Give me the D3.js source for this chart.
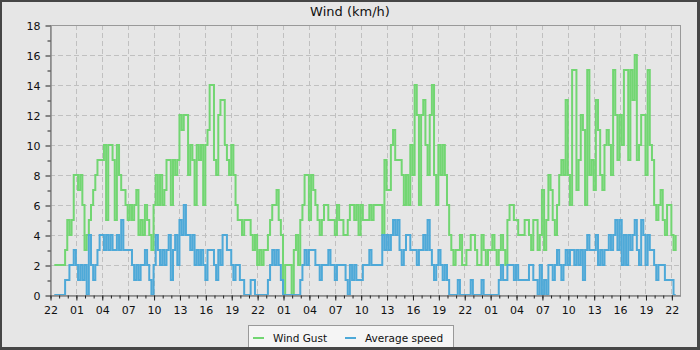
<!DOCTYPE html>
<html>
<head>
<meta charset="utf-8">
<script src="https://cdn.jsdelivr.net/npm/d3@7"></script>
<style>
  body { margin: 0; background: #e6e6e6; }
  svg { display: block; font-family: "DejaVu Sans", sans-serif; }
</style>
</head>
<body>
<svg id="graphique" width="700" height="350"></svg>
<script>
// ===============================
// Données (relevés tous les quarts d'heure, premier relevé à 22h30)
// ===============================
const titre = "Wind (km/h)";
const nomsSeries = ["Wind Gust", "Average speed"];
const couleursSeries = ["#72d672", "#4ea9d8"];

// Rafales, une ligne par heure (4 quarts d'heure)
const rafalesJour1 = [
    2, 2,
    2, 2, 2, 3,   5, 4, 5, 8,   8, 7, 8, 6,   3, 4, 5, 6,
    7, 8, 9, 9,   9, 10, 5, 10, 10, 9, 5, 10, 8, 7, 7, 6,
    5, 6, 5, 6,   7, 4, 5, 4,   6, 5, 4, 3,   6, 8, 6, 8,
    6, 7, 9, 9,   6, 9, 8, 9,   12, 11, 12, 12, 8, 10, 9, 6,
    10, 9, 10, 6, 10, 11, 14, 14, 9, 8, 12, 13, 13, 10, 9, 8,
    10, 8, 6, 5,  5, 4, 5, 5,   5, 4, 3, 4
];
const rafalesJour2 = [
    2, 3, 2, 3,   3, 4, 5, 6,   6, 7, 5, 4,   0, 2, 2, 2,
    0, 3, 4, 2,   5, 6, 8, 8,   5, 8, 7, 6,   5, 4, 5, 6,
    6, 5, 5, 5,   4, 6, 5, 5,   4, 4, 5, 6,   6, 5, 6, 4,
    6, 5, 5, 5,   6, 5, 6, 6,   6, 6, 4, 9,   7, 7, 10, 11,
    9, 9, 9, 8,   6, 8, 6, 10,  8, 14, 12, 6, 12, 13, 10, 8,
    12, 14, 8, 6, 10, 8, 10, 8, 6, 4, 3, 2,   3, 3, 4, 2
];
const rafalesJour3 = [
    2, 3, 3, 4,   4, 3, 2, 2,   4, 3, 2, 3,   3, 4, 3, 2,
    3, 4, 3, 2,   5, 6, 6, 5,   5, 4, 4, 4,   5, 5, 4, 3,
    5, 5, 3, 4,   7, 3, 5, 8,   7, 5, 4, 6,   8, 9, 8, 13,
    8, 6, 15, 15, 7, 9, 12, 11, 6, 15, 8, 9,  7, 13, 11, 8,
    7, 10, 11, 10, 8, 15, 12, 9, 12, 10, 15, 15, 9, 15, 13, 16,
    9, 10, 12, 12, 8, 15, 10, 9, 6, 5, 6, 7,  5, 4, 6, 6,
    4, 3, 4
];

// Vitesse moyenne
const moyenneJour1 = [
    0, 0,
    0, 0, 0, 1,   1, 2, 2, 3,   2, 1, 2, 1,   2, 0, 4, 2,
    1, 2, 3, 4,   4, 3, 4, 3,   4, 3, 3, 4,   3, 5, 3, 3,
    3, 3, 2, 1,   2, 1, 2, 2,   3, 2, 1, 0,   2, 4, 3, 2,
    3, 2, 3, 4,   1, 3, 4, 2,   5, 4, 6, 4,   4, 3, 4, 2,
    3, 2, 3, 2,   1, 3, 3, 3,   2, 1, 3, 2,   4, 4, 3, 3,
    2, 1, 2, 2,   1, 1, 0, 0,   0, 1, 1, 0
];
const moyenneJour2 = [
    0, 0, 0, 0,   0, 1, 2, 3,   2, 3, 2, 1,   0, 0, 0, 0,
    0, 0, 0, 0,   1, 2, 3, 2,   3, 3, 3, 2,   2, 1, 2, 2,
    2, 3, 2, 2,   1, 2, 2, 2,   2, 1, 0, 2,   1, 2, 1, 1,
    1, 2, 2, 2,   3, 2, 2, 2,   2, 2, 4, 3,   4, 3, 4, 5,
    4, 5, 3, 2,   3, 4, 4, 3,   3, 3, 2, 3,   3, 4, 3, 5,
    3, 2, 1, 2,   3, 2, 1, 2,   1, 0, 0, 0,   0, 1, 0, 0
];
const moyenneJour3 = [
    0, 0, 0, 1,   0, 0, 0, 0,   1, 0, 0, 0,   0, 0, 0, 0,
    1, 2, 1, 1,   2, 2, 2, 1,   2, 1, 1, 1,   1, 1, 2, 2,
    1, 1, 0, 2,   0, 1, 0, 2,   2, 1, 2, 3,   2, 1, 2, 3,
    2, 3, 3, 2,   3, 2, 3, 1,   3, 4, 3, 3,   3, 4, 2, 3,
    2, 3, 3, 4,   3, 4, 5, 3,   5, 2, 4, 2,   4, 3, 4, 5,
    3, 2, 5, 4,   2, 4, 3, 3,   2, 1, 2, 2,   2, 1, 1, 1,
    1, 0, 0
];

const rafales = [].concat(rafalesJour1, rafalesJour2, rafalesJour3);
const moyenne = [].concat(moyenneJour1, moyenneJour2, moyenneJour3);

// Graduations
const valeursY = [0, 2, 4, 6, 8, 10, 12, 14, 16, 18];
const debut = new Date(2024, 0, 1, 22, 0);
const fin = new Date(2024, 0, 4, 23, 0);
const premierReleve = 30; // minutes après le début
const pas = 15;           // minutes entre deux relevés

// ===============================
// Mise en page
// ===============================
const svg = d3.select("#graphique");
const zone = { gauche: 50, droite: 680, haut: 25, bas: 295 };

// Cadre extérieur
svg.append("rect").attr("width", 700).attr("height", 350).attr("fill", "#464646");
svg.append("rect").attr("x", 2).attr("y", 2).attr("width", 695).attr("height", 345).attr("fill", "#e6e6e6");

const x = d3.scaleTime().domain([debut, fin]).range([zone.gauche, zone.droite]);
const y = d3.scaleLinear().domain([0, 18]).range([zone.bas, zone.haut]);

const ticksMajeursX = d3.timeHour.range(debut, fin, 3);
const ticksMineursX = d3.timeHour.range(debut, fin);
const ticksMineursY = d3.range(1, 18, 2);

// Grille en pointillés
svg.append("g").selectAll("line")
    .data(valeursY.filter(v => v > 0 && v < 18))
    .join("line")
    .attr("x1", zone.gauche).attr("x2", zone.droite)
    .attr("y1", d => y(d) + 0.5).attr("y2", d => y(d) + 0.5)
    .attr("stroke", "#c0c0c0").attr("stroke-dasharray", "5,3");

svg.append("g").selectAll("line")
    .data(ticksMajeursX.filter(d => +d > +debut))
    .join("line")
    .attr("x1", d => Math.round(x(d)) + 0.5).attr("x2", d => Math.round(x(d)) + 0.5)
    .attr("y1", zone.haut).attr("y2", zone.bas)
    .attr("stroke", "#c0c0c0").attr("stroke-dasharray", "5,3");

// Zone de découpe pour les courbes
svg.append("clipPath").attr("id", "decoupe")
    .append("rect")
    .attr("x", zone.gauche).attr("y", zone.haut)
    .attr("width", zone.droite - zone.gauche).attr("height", zone.bas - zone.haut);

// ===============================
// Courbes en escalier
// ===============================
function tempsReleve(i) {
    return new Date(debut.getTime() + (premierReleve + i * pas) * 60000);
}

const ligne = d3.line()
    .x((d, i) => x(tempsReleve(i)))
    .y(d => y(d))
    .curve(d3.curveStepAfter);

[rafales, moyenne].forEach((serie, k) => {
    svg.append("path")
        .datum(serie)
        .attr("clip-path", "url(#decoupe)")
        .attr("fill", "none")
        .attr("stroke", couleursSeries[k])
        .attr("stroke-width", 2)
        .attr("d", ligne);
});

// ===============================
// Axes
// ===============================
// Bordure de la zone de tracé
svg.append("rect")
    .attr("x", zone.gauche + 0.5).attr("y", zone.haut + 0.5)
    .attr("width", zone.droite - zone.gauche).attr("height", zone.bas - zone.haut)
    .attr("fill", "none").attr("stroke", "#999");

const axeY = svg.append("g")
    .attr("transform", `translate(${zone.gauche + 0.5},0.5)`)
    .call(d3.axisLeft(y).tickValues(valeursY).tickSize(5).tickSizeOuter(0).tickPadding(5));
svg.append("g")
    .attr("transform", `translate(${zone.gauche + 0.5},0.5)`)
    .call(d3.axisLeft(y).tickValues(ticksMineursY).tickSize(3).tickSizeOuter(0).tickFormat(""));

const axeX = svg.append("g")
    .attr("transform", `translate(0.5,${zone.bas + 0.5})`)
    .call(d3.axisBottom(x).tickValues(ticksMajeursX).tickSize(5).tickSizeOuter(0).tickPadding(6)
        .tickFormat(d3.timeFormat("%H")));
svg.append("g")
    .attr("transform", `translate(0.5,${zone.bas + 0.5})`)
    .call(d3.axisBottom(x).tickValues(ticksMineursX).tickSize(3).tickSizeOuter(0).tickFormat(""));

svg.selectAll(".domain").attr("stroke", "#888");
svg.selectAll(".tick line").attr("stroke", "#222");
svg.selectAll(".tick text")
    .attr("fill", "#111")
    .style("font-family", "DejaVu Sans")
    .style("font-size", "11px");

// Titre
svg.append("text")
    .attr("x", 350).attr("y", 16)
    .attr("text-anchor", "middle")
    .attr("fill", "#111")
    .style("font-size", "13px")
    .text(titre);

// ===============================
// Légende
// ===============================
const legende = svg.append("g");
legende.append("rect")
    .attr("x", 248.5).attr("y", 325.5).attr("width", 205).attr("height", 24)
    .attr("fill", "#f5f5f5").attr("stroke", "#999");

const positionsLegende = [253, 345];
nomsSeries.forEach((nom, k) => {
    legende.append("line")
        .attr("x1", positionsLegende[k]).attr("x2", positionsLegende[k] + 11)
        .attr("y1", 338).attr("y2", 338)
        .attr("stroke", couleursSeries[k]).attr("stroke-width", 2);
    legende.append("text")
        .attr("x", positionsLegende[k] + 20).attr("y", 341.5)
        .attr("fill", "#111")
        .style("font-size", "10.5px")
        .text(nom);
});

// Le cadre du bas recouvre le bas de la légende
svg.append("rect").attr("x", 0).attr("y", 347).attr("width", 700).attr("height", 3).attr("fill", "#464646");
svg.append("rect").attr("x", 697).attr("y", 0).attr("width", 3).attr("height", 350).attr("fill", "#464646");
</script>
</body>
</html>
